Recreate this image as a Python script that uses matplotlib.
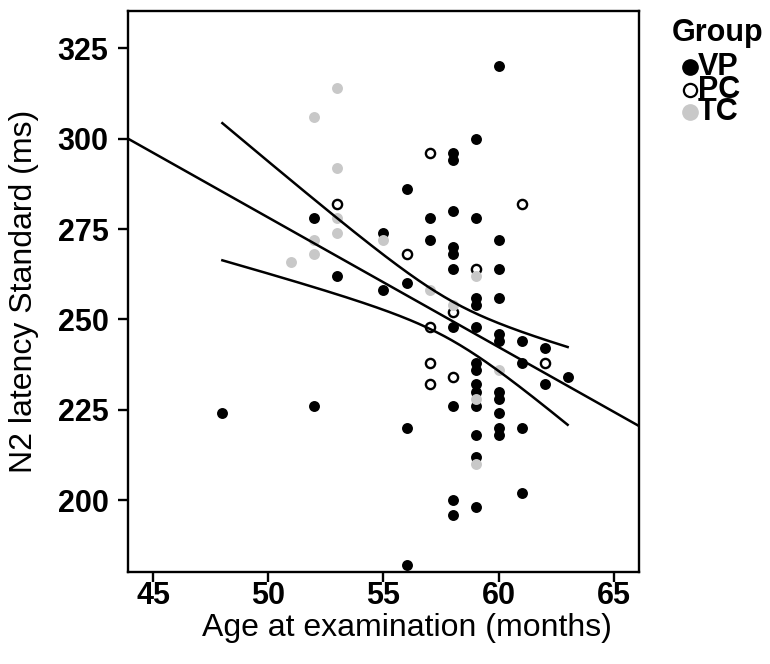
import numpy as np
import matplotlib.pyplot as plt
from matplotlib.lines import Line2D

plt.rcParams['font.family'] = ['Liberation Sans', 'DejaVu Sans']

# 数据
vp_age = [48, 52, 52, 53, 55, 55, 56, 56, 56, 56, 57, 57, 58, 58, 58, 58, 58, 58, 58, 58, 58, 58,
          59, 59, 59, 59, 59, 59, 59, 59, 59, 59, 59, 59, 59,
          60, 60, 60, 60, 60, 60, 60, 60, 60, 60, 60, 61, 61, 61, 61, 62, 62, 63]
vp_n2 = [224, 226, 278, 262, 274, 258, 286, 260, 220, 182, 278, 272, 296, 294, 280, 270, 268, 264, 248, 226, 200, 196,
         300, 278, 256, 254, 248, 238, 236, 232, 230, 226, 218, 212, 198,
         320, 272, 264, 256, 246, 244, 230, 228, 224, 220, 218, 244, 238, 220, 202, 242, 232, 234]
pc_age = [53, 56, 57, 57, 57, 57, 58, 58, 59, 61, 62]
pc_n2 = [282, 268, 296, 248, 238, 232, 252, 234, 264, 282, 238]
tc_age = [51, 52, 52, 52, 53, 53, 53, 53, 55, 57, 58, 59, 59, 59, 60]
tc_n2 = [266, 306, 272, 268, 314, 292, 278, 274, 272, 258, 254, 262, 228, 210, 236]

# 拟合线 (两端读数) 和 95% 置信带 (读数)
fit_age = [43.9, 66.1]
fit_n2 = [300.0, 220.5]
band_age = [48, 52, 55.4, 56.9, 59, 61, 63]
band_hi = [303.8, 284.4, 265.6, 258.2, 251.3, 246.1, 242.4]
band_lo = [266.0, 259.6, 251.3, 247.7, 239.8, 230.6, 220.7]

groups = ['VP', 'PC', 'TC']
grey = '#c8c8c8'

fig = plt.figure(figsize=(7.7, 6.64), dpi=100)
ax = fig.add_axes([128/770, 1-571.7/664, 511/770, 561/664])

ax.scatter(vp_age, vp_n2, s=62, color='black', linewidths=0, zorder=2)
ax.scatter(pc_age, pc_n2, s=44, facecolor='white', edgecolor='black', linewidths=1.7, zorder=3)
ax.scatter(tc_age, tc_n2, s=62, color=grey, linewidths=0, zorder=4)

slope, icpt = np.polyfit(fit_age, fit_n2, 1)
ax.plot(fit_age, fit_n2, color='black', lw=1.8, zorder=5)

# 置信带: 半宽平方对年龄做二次拟合 (双曲线形状)
ba = np.array(band_age)
half = (np.array(band_hi) - np.array(band_lo)) / 2
q = np.polyfit(ba, half**2, 2)
xc = np.linspace(ba.min(), ba.max(), 200)
hc = np.sqrt(np.polyval(q, xc))
ax.plot(xc, icpt + slope*xc + hc, color='black', lw=1.8, zorder=5)
ax.plot(xc, icpt + slope*xc - hc, color='black', lw=1.8, zorder=5)

ax.set_xlim(43.9, 66.1)
ax.set_ylim(180.2, 335.4)
ax.set_xticks([45, 50, 55, 60, 65])
ax.set_yticks([200, 225, 250, 275, 300, 325])
ax.tick_params(direction='out', length=7, width=1.7, labelsize=22)
ax.tick_params(axis='y', pad=7)
ax.tick_params(axis='x', pad=0)
for lab in ax.get_xticklabels() + ax.get_yticklabels():
    lab.set_fontweight('bold')
for sp in ax.spines.values():
    sp.set_linewidth(1.7)

ax.set_xlabel('Age at examination (months)', fontsize=23)
ax.set_ylabel('N2 latency Standard (ms)', fontsize=23)
ax.xaxis.label.set_va('center')
ax.yaxis.label.set_va('center')
ax.xaxis.set_label_coords(0.546, -0.1)
ax.yaxis.set_label_coords(-0.203, 0.5)

# 图例
fig.text(672/770, 1-33/664, 'Group', fontsize=22, fontweight='bold', va='center', ha='left')
leg_y = [67, 90, 112]
styles = [dict(marker='o', color='black', markersize=11),
          dict(marker='o', markerfacecolor='white', markeredgecolor='black', markeredgewidth=1.6, markersize=9.5),
          dict(marker='o', color=grey, markersize=11)]
for g, yy, st in zip(groups, leg_y, styles):
    fig.add_artist(Line2D([690/770], [1-yy/664], transform=fig.transFigure, linestyle='none', **st))
    fig.text(698/770, 1-yy/664, g, fontsize=22, fontweight='bold', va='center', ha='left')

fig.savefig('out.png', dpi=100)
